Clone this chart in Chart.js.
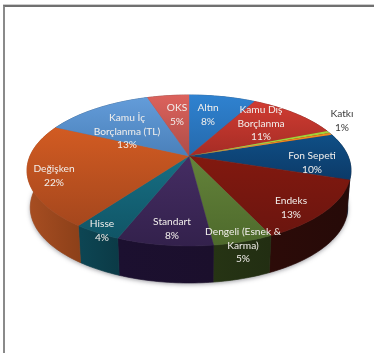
<!DOCTYPE html>
<html lang="tr">
<head>
<meta charset="utf-8">
<title>Fon dağılımı</title>
<style>
  html, body { margin: 0; padding: 0; background: #fff; overflow: hidden; }
  #frame { position: absolute; left: 3px; top: 5px; width: 380px; height: 360px;
           border-left: 2px solid #8a8a8a; border-top: 2px solid #707070; box-shadow: 0 -1px 0 #cccccc; }
  #c { position: absolute; left: 0; top: 0; }
</style>
<script src="https://cdn.jsdelivr.net/npm/chart.js@4"></script>
</head>
<body>
<div id="frame"></div>
<canvas id="c" width="374" height="353"></canvas>
<script>
// Fund categories, clockwise from twelve o'clock
const categories = ['Altın', 'Kamu Dış Borçlanma', 'Katkı', 'Fon Sepeti', 'Endeks',
  'Dengeli (Esnek & Karma)', 'Standart', 'Hisse', 'Değişken', 'Kamu İç Borçlanma (TL)', 'OKS'];
const shares = [8, 11, 1, 10, 13, 5, 8, 4, 22, 13, 5];

// Wrapped label text for each slice (the share is appended as the last line)
const labelLines = [['Altın'], ['Kamu Dış', 'Borçlanma'], ['Katkı'], ['Fon Sepeti'], ['Endeks'],
  ['Dengeli (Esnek &', 'Karma)'], ['Standart'], ['Hisse'], ['Değişken'], ['Kamu İç', 'Borçlanma (TL)'], ['OKS']];
const labelAnchors = [[208, 108], [261, 110], [342, 114], [312, 156], [291, 201],
  [243, 232], [172, 222], [102, 224], [54, 169], [127, 118], [177, 108]];

// Top-face gradient (upper, lower) and rim gradient (left, right) per slice
const topColors = [['#2f82d0', '#2569ac'], ['#d03c32', '#a52c25'], ['#a2d23a', '#f08a20'], ['#0f4f86', '#0c3a68'],
  ['#82190f', '#6b150f'], ['#64833a', '#4e6a2c'], ['#452d63', '#33214c'], ['#176f84', '#105566'],
  ['#d25b22', '#a5471d'], ['#639cd9', '#4a80ba'], ['#dc625c', '#ad4d48']];
const rimColors = [['#174a7c', '#174a7c'], ['#6d1c18', '#6d1c18'], ['#555', '#555'], ['#0a2542', '#071a30'],
  ['#2c0b08', '#260a08'], ['#263414', '#222e12'], ['#1c1030', '#1b0f2c'], ['#0d4654', '#0b3a46'],
  ['#a84e22', '#8c4019'], ['#2e5580', '#2e5580'], ['#7c3431', '#7c3431']];

// Perspective of the disc: unit circle to page coordinates
const view = { cx: 189, cy: 156, k: 159, a: 42.76, c: -0.192, depth: 37, shrink: 0.98 };
function project(u, v, lower) {
  const d = 1 + view.c * v;
  const x = view.k * u / d;
  const y = (view.a * v + view.cy) / d;
  return lower ? [view.cx + x * view.shrink, y + view.depth] : [view.cx + x, y];
}
function rimPoints(start, end, lower) {
  const steps = Math.max(2, Math.ceil((end - start) / 0.02));
  const pts = [];
  for (let i = 0; i <= steps; i++) {
    const t = start + (end - start) * i / steps;
    pts.push(project(Math.cos(t), Math.sin(t), lower));
  }
  return pts;
}
function tracePoints(ctx, pts) {
  pts.forEach((p, i) => i ? ctx.lineTo(p[0], p[1]) : ctx.moveTo(p[0], p[1]));
}
function verticalFill(ctx, pts, colors) {
  const ys = pts.map(p => p[1]);
  const g = ctx.createLinearGradient(0, Math.min(...ys), 0, Math.max(...ys));
  g.addColorStop(0, colors[0]);
  g.addColorStop(1, colors[1]);
  return g;
}

const tiltedPie = {
  id: 'tiltedPie',
  beforeDatasetsDraw(chart) {
    const ctx = chart.ctx;
    const arcs = chart.getDatasetMeta(0).data;
    const wedges = arcs.map(arc => arc.getProps(['startAngle', 'endAngle'], true));
    ctx.save();

    // Soft drop shadow under the disc
    ctx.save();
    ctx.shadowColor = 'rgba(70,70,80,0.5)';
    ctx.shadowBlur = 4;
    ctx.shadowOffsetY = 1.5;
    ctx.beginPath();
    tracePoints(ctx, rimPoints(0, Math.PI * 2, true));
    ctx.closePath();
    ctx.fillStyle = '#8a8a8a';
    ctx.fill();
    ctx.restore();

    // Rim walls
    wedges.forEach((w, i) => {
      const upper = rimPoints(w.startAngle, w.endAngle, false);
      const lower = rimPoints(w.startAngle, w.endAngle, true);
      const xs = upper.concat(lower).map(p => p[0]);
      const g = ctx.createLinearGradient(Math.min(...xs), 0, Math.max(...xs), 0);
      g.addColorStop(0, rimColors[i][0]);
      g.addColorStop(1, rimColors[i][1]);
      ctx.beginPath();
      tracePoints(ctx, upper.concat(lower.reverse()));
      ctx.closePath();
      ctx.fillStyle = g;
      ctx.strokeStyle = g;
      ctx.lineWidth = 0.6;
      ctx.fill();
      ctx.stroke();
    });

    // Top face; the Katkı wedge is split into its two thin bands
    wedges.forEach((w, i) => {
      if (categories[i] === 'Katkı') return;
      const pts = [project(0, 0, false)].concat(rimPoints(w.startAngle, w.endAngle, false));
      ctx.beginPath();
      tracePoints(ctx, pts);
      ctx.closePath();
      const fill = verticalFill(ctx, pts, topColors[i]);
      ctx.fillStyle = fill;
      ctx.strokeStyle = fill;
      ctx.lineWidth = 0.4;
      ctx.fill();
      ctx.stroke();
    });
    wedges.forEach((w, i) => {
      if (categories[i] !== 'Katkı') return;
      const split = w.startAngle + (w.endAngle - w.startAngle) * 0.55;
      [[w.startAngle, split, topColors[i][0]], [split, w.endAngle, topColors[i][1]]].forEach(([a0, a1, solid]) => {
        ctx.beginPath();
        tracePoints(ctx, [project(0, 0, false)].concat(rimPoints(a0, a1, false)));
        ctx.closePath();
        ctx.fillStyle = solid;
        ctx.fill();
      });
    });
    ctx.restore();
    return false;
  },
  afterDraw(chart) {
    const ctx = chart.ctx;
    ctx.save();
    ctx.font = '10.2px Lato';
    ctx.textAlign = 'center';
    ctx.textBaseline = 'middle';
    labelLines.forEach((lines, i) => {
      ctx.fillStyle = categories[i] === 'Katkı' ? '#3a3a3a' : '#f2efec';
      lines.concat(shares[i] + '%').forEach((line, n) => {
        ctx.fillText(line, labelAnchors[i][0], labelAnchors[i][1] + n * 13.3);
      });
    });
    ctx.restore();
  }
};

new Chart(document.getElementById('c'), {
  type: 'pie',
  data: { labels: categories, datasets: [{ data: shares, borderWidth: 0 }] },
  options: {
    responsive: false,
    animation: false,
    events: [],
    rotation: 0,
    plugins: { legend: { display: false }, tooltip: { enabled: false } }
  },
  plugins: [tiltedPie]
});
</script>
</body>
</html>
